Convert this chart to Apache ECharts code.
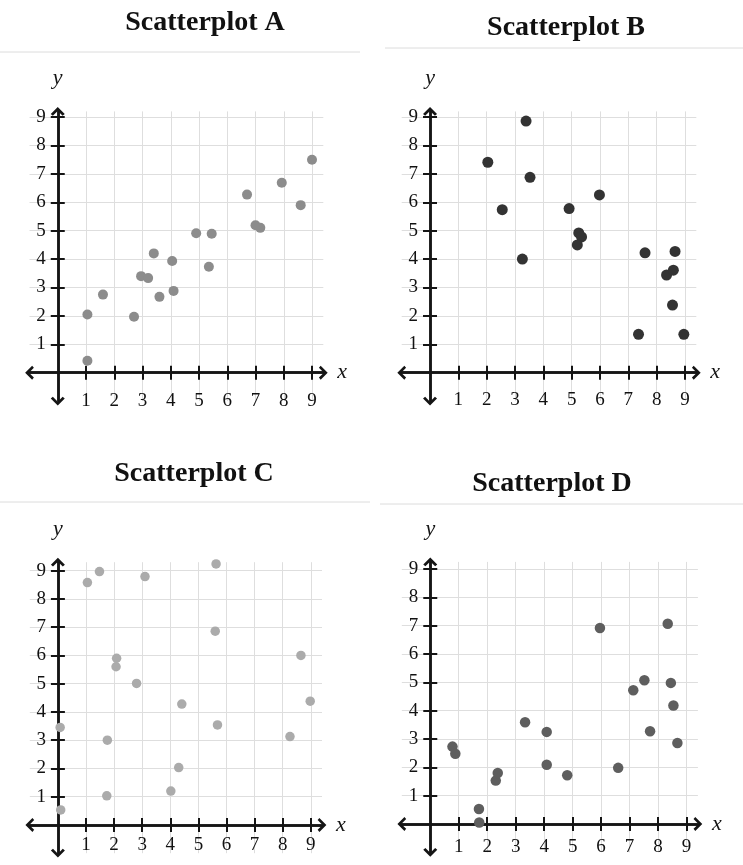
<!DOCTYPE html>
<html>
<head>
<meta charset="utf-8">
<script src="https://cdn.jsdelivr.net/npm/echarts@6/dist/echarts.min.js"></script>
<style>
  html, body { margin: 0; padding: 0; background: #fff; }
  #main { width: 743px; height: 865px; }
</style>
</head>
<body>
<div id="main"></div>
<script>
// tick labels shared by every panel
const tickValues = [1, 2, 3, 4, 5, 6, 7, 8, 9];
const titles = ["Scatterplot A", "Scatterplot B", "Scatterplot C", "Scatterplot D"];

// Scatterplot A
const aX = [1.05, 1.05, 1.6, 2.7, 2.95, 3.2, 3.4, 3.6, 4.05, 4.1, 4.9, 5.45, 5.35, 6.7, 7.0, 7.17, 7.93, 8.6, 9.0];
const aY = [2.05, 0.42, 2.75, 1.97, 3.4, 3.33, 4.2, 2.67, 3.93, 2.88, 4.91, 4.89, 3.73, 6.27, 5.19, 5.1, 6.69, 5.9, 7.5];
// Scatterplot B
const bX = [3.39, 2.04, 3.53, 2.55, 4.91, 5.98, 3.26, 5.25, 5.35, 5.2, 7.59, 8.65, 8.35, 8.59, 8.56, 7.36, 8.96];
const bY = [8.86, 7.41, 6.88, 5.74, 5.78, 6.26, 4.0, 4.92, 4.78, 4.5, 4.22, 4.27, 3.44, 3.61, 2.38, 1.35, 1.35];
// Scatterplot C
const cX = [0.1, 0.08, 1.05, 1.48, 3.1, 5.63, 5.6, 2.09, 2.07, 2.8, 1.76, 1.74, 4.41, 4.3, 4.02, 5.68, 8.26, 8.65, 8.98];
const cY = [0.53, 3.45, 8.58, 8.97, 8.79, 9.24, 6.86, 5.9, 5.6, 5.01, 3.0, 1.03, 4.28, 2.03, 1.2, 3.54, 3.13, 6.0, 4.38];
// Scatterplot D
const dX = [0.78, 0.88, 1.71, 1.72, 2.3, 2.37, 3.33, 4.09, 4.09, 4.81, 5.96, 6.6, 7.13, 7.52, 7.72, 8.34, 8.45, 8.54, 8.68];
const dY = [2.73, 2.48, 0.53, 0.05, 1.53, 1.8, 3.59, 3.25, 2.09, 1.72, 6.92, 1.98, 4.72, 5.07, 3.27, 7.07, 4.98, 4.18, 2.86];

// ux/uy = px per unit, lab = distance of x labels below the axis
const panels = [
  { xs: aX, ys: aY, color: "#8c8c8c", size: 10, ymax: 9.2, ux: 28.25, uy: 28.4, lab: 28, grid: { left: 29.5, top: 111.4, width: 293.8, height: 289.7 }, title: [200, 4] },
  { xs: bX, ys: bY, color: "#333333", size: 11, ymax: 9.2, ux: 28.33, uy: 28.4, lab: 27, grid: { left: 401.7, top: 111.4, width: 294.6, height: 289.7 }, title: [561, 9] },
  { xs: cX, ys: cY, color: "#ababab", size: 9.5, ymax: 9.3, ux: 28.1, uy: 28.25, lab: 20, grid: { left: 29.8, top: 562.2, width: 292.2, height: 291.0 }, title: [189, 455] },
  { xs: dX, ys: dY, color: "#5e5e5e", size: 10.5, ymax: 9.25, ux: 28.47, uy: 28.33, lab: 23, grid: { left: 401.8, top: 561.9, width: 296.1, height: 290.4 }, title: [547, 465] }
];

const serif = "Liberation Serif";
const ink = "#151515";
// open chevron pointing up, rotated by echarts to follow the axis
const chevron = "path://M0,10 L10,0 L20,10 L17,12.5 L10,5.5 L3,12.5 Z";

const option = {
  backgroundColor: "#fff",
  animation: false,
  title: [],
  grid: [],
  xAxis: [],
  yAxis: [],
  series: [],
  graphic: [
    { type: "line", shape: { x1: 0, y1: 52, x2: 360, y2: 52 }, style: { stroke: "#dcdcdc", lineWidth: 1 } },
    { type: "line", shape: { x1: 385, y1: 48, x2: 743, y2: 48 }, style: { stroke: "#dcdcdc", lineWidth: 1 } },
    { type: "line", shape: { x1: 0, y1: 502, x2: 370, y2: 502 }, style: { stroke: "#dcdcdc", lineWidth: 1 } },
    { type: "line", shape: { x1: 380, y1: 504, x2: 743, y2: 504 }, style: { stroke: "#dcdcdc", lineWidth: 1 } }
  ]
};

function baseLine(withArrow) {
  return {
    show: true,
    onZero: true,
    symbol: withArrow ? [chevron, chevron] : "none",
    symbolSize: [14, 9],
    lineStyle: { color: ink, width: 2.5 }
  };
}

panels.forEach((p, i) => {
  option.title.push({
    text: titles[i],
    left: p.title[0],
    top: p.title[1],
    textAlign: "center",
    textStyle: { fontFamily: serif, fontWeight: "bold", fontSize: 28, color: "#111" }
  });
  option.grid.push(Object.assign({ containLabel: false }, p.grid));

  const tickOut = { show: true, length: 7, customValues: tickValues, lineStyle: { color: ink, width: 2 } };
  const labelStyle = { fontFamily: serif, fontSize: 19, color: "#111", customValues: tickValues };

  // main x axis: grid lines, labels, ticks below
  option.xAxis.push({
    type: "value", gridIndex: i, position: "bottom", min: -1, max: 9.4, interval: 1,
    name: "x", nameLocation: "end", nameGap: 14,
    nameTextStyle: { fontFamily: serif, fontStyle: "italic", fontSize: 22, color: ink, verticalAlign: "middle" },
    axisLine: baseLine(true),
    axisTick: tickOut,
    // labels sit at the grid edge, pull them up next to the zero line
    axisLabel: Object.assign({ margin: p.lab - 9 - p.uy }, labelStyle),
    splitLine: { show: true, lineStyle: { color: "#dedede", width: 1 } }
  });
  // twin x axis: only the ticks above the line
  option.xAxis.push({
    type: "value", gridIndex: i, position: "top", min: -1, max: 9.4, interval: 1,
    axisLine: baseLine(false),
    axisTick: tickOut,
    axisLabel: { show: false },
    splitLine: { show: false }
  });
  option.yAxis.push({
    type: "value", gridIndex: i, position: "left", min: -1, max: p.ymax, interval: 1,
    name: "y", nameLocation: "end", nameGap: 22,
    nameTextStyle: { fontFamily: serif, fontStyle: "italic", fontSize: 22, color: ink },
    axisLine: baseLine(true),
    axisTick: tickOut,
    axisLabel: Object.assign({ margin: 12 - p.ux }, labelStyle),
    splitLine: { show: true, lineStyle: { color: "#dedede", width: 1 } }
  });
  option.yAxis.push({
    type: "value", gridIndex: i, position: "right", min: -1, max: p.ymax, interval: 1,
    axisLine: baseLine(false),
    axisTick: tickOut,
    axisLabel: { show: false },
    splitLine: { show: false }
  });

  option.series.push({
    type: "scatter",
    xAxisIndex: i * 2,
    yAxisIndex: i * 2,
    clip: false,
    symbolSize: p.size,
    itemStyle: { color: p.color, opacity: 1 },
    data: p.xs.map((x, k) => [x, p.ys[k]]),
    z: 5
  });
});

const chart = echarts.init(document.getElementById("main"));
chart.setOption(option);
</script>
</body>
</html>
